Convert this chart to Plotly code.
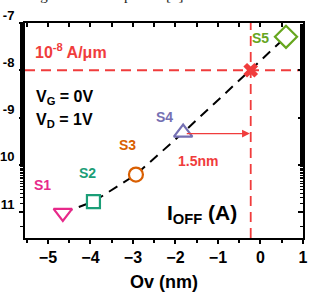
import plotly.graph_objects as go

# ---- data ----
samples = ["S1", "S2", "S3", "S4", "S5"]
ov_nm = [-4.65, -3.93, -2.93, -1.82, 0.60]
ioff_a = [9.6e-12, 1.66e-11, 6.2e-11, 4.8e-10, 5.1e-8]
colors = ["#e7298a", "#1b9e77", "#d95f02", "#7570b3", "#66a61e"]
symbols = ["triangle-down", "square", "circle", "triangle-up", "diamond"]
sizes = [16, 13, 14, 16, 17]
label_x = [-5.14, -4.06, -3.12, -2.25, 0.0]
label_log_y = [-10.43, -10.17, -9.59, -8.98, -7.32]
target_ioff = 1e-8
target_ov = -0.23
x_ticks = [-5, -4, -3, -2, -1, 0, 1]
y_tickvals = [1e-7, 1e-8, 1e-9, 1e-10, 1e-11]
y_ticktext = ["-7", "-8", "-9", "10", "11"]

RED = "#f03c3c"
FONT = "Arial"
XR = [-5.54, 1.0]
YR = [-11.55, -7.0]

fig = go.Figure()

# dashed trend line
fig.add_trace(go.Scatter(
    x=ov_nm, y=ioff_a, mode="lines",
    line=dict(color="black", width=2, dash="10px,7px"),
    showlegend=False, hoverinfo="skip"))

# markers (white fill to hide line)
for i in range(len(samples)):
    fig.add_trace(go.Scatter(
        x=[ov_nm[i]], y=[ioff_a[i]], mode="markers",
        marker=dict(symbol=symbols[i], size=sizes[i],
                    color="white", line=dict(color=colors[i], width=2.2)),
        showlegend=False))
    fig.add_annotation(x=label_x[i], y=label_log_y[i],
                       text="<b>%s</b>" % samples[i], showarrow=False,
                       font=dict(family=FONT, size=14, color=colors[i]))

# target cross
fig.add_trace(go.Scatter(
    x=[target_ov], y=[target_ioff], mode="markers",
    marker=dict(symbol="x", size=13, color=RED, line=dict(width=0)),
    showlegend=False))

# dummy trace for mirrored axes
fig.add_trace(go.Scatter(x=[XR[0]], y=[1e-9], xaxis="x2", yaxis="y2",
                         mode="markers", marker=dict(opacity=0), showlegend=False,
                         hoverinfo="skip"))

# reference lines
fig.add_shape(type="line", xref="paper", x0=0, x1=1, yref="y",
              y0=target_ioff, y1=target_ioff,
              line=dict(color=RED, width=1.8, dash="10px,6px"), layer="below")
fig.add_shape(type="line", xref="x", x0=target_ov, x1=target_ov, yref="paper",
              y0=0, y1=1, line=dict(color=RED, width=1.8, dash="10px,6px"), layer="below")

# arrow 1.5nm
fig.add_annotation(x=target_ov - 0.02, y=-9.34, ax=ov_nm[3] + 0.05, ay=-9.34,
                   xref="x", yref="y", axref="x", ayref="y",
                   showarrow=True, arrowhead=2, arrowsize=1.2, arrowwidth=1.3,
                   arrowcolor=RED, text="")
fig.add_annotation(x=-1.47, y=-9.93, text="<b>1.5nm</b>", showarrow=False,
                   font=dict(family=FONT, size=14, color=RED))

# text labels
fig.add_annotation(xref="paper", yref="paper", x=0.028, y=0.925, xanchor="left",
                   text="<b>10<sup>-8</sup> A/μm</b>", showarrow=False,
                   font=dict(family=FONT, size=16, color=RED))
fig.add_annotation(xref="paper", yref="paper", x=0.032, y=0.655, xanchor="left",
                   text="<b>V<sub>G</sub> = 0V</b>", showarrow=False,
                   font=dict(family=FONT, size=16, color="black"))
fig.add_annotation(xref="paper", yref="paper", x=0.032, y=0.548, xanchor="left",
                   text="<b>V<sub>D</sub> = 1V</b>", showarrow=False,
                   font=dict(family=FONT, size=16, color="black"))
fig.add_annotation(xref="paper", yref="paper", x=0.768, y=0.04, xanchor="right",
                   text="<b>I<sub>OFF</sub> (A)</b>", showarrow=False,
                   font=dict(family=FONT, size=21, color="black"))
# cut-off caption text above the chart
fig.add_annotation(xref="paper", yref="paper", x=-0.055, y=1.128, xanchor="left",
                   yanchor="middle", text="change under the spacers [5].",
                   showarrow=False,
                   font=dict(family="Liberation Serif", size=15, color="#222"))

axis_common = dict(showgrid=False, zeroline=False, showline=True,
                   linecolor="black", linewidth=2)

fig.update_layout(
    width=319, height=297,
    margin=dict(l=25, r=16, t=23, b=59, autoexpand=False),
    paper_bgcolor="white", plot_bgcolor="white",
    xaxis=dict(range=XR, tickvals=x_ticks, ticks="outside", ticklen=4,
               tickwidth=1.5, tickcolor="black",
               minor=dict(dtick=0.5, tick0=0, ticks="outside", ticklen=3,
                          tickwidth=1.5, tickcolor="black"),
               tickfont=dict(family=FONT, size=16, color="black", weight="bold"),
               title=dict(text="<b>Ov (nm)</b>", standoff=10,
                          font=dict(family=FONT, size=18, color="black")),
               **axis_common),
    yaxis=dict(type="log", range=YR, tickvals=y_tickvals, ticktext=y_ticktext,
               ticks="outside", ticklen=4, tickwidth=1.5, tickcolor="black",
               minor=dict(ticks="outside", ticklen=3, tickwidth=1.2, tickcolor="black"),
               ticklabelshift=-8, ticklabelstandoff=2,
               tickfont=dict(family=FONT, size=13, color="black", weight="bold"),
               **axis_common),
    xaxis2=dict(range=XR, overlaying="x", side="top", tickvals=[],
                ticks="inside", ticklen=4, tickwidth=1.5, tickcolor="black",
                minor=dict(dtick=0.5, tick0=0, ticks="inside", ticklen=4,
                           tickwidth=1.5, tickcolor="black"),
                showticklabels=False, **axis_common),
    yaxis2=dict(type="log", range=YR, overlaying="y", side="right",
                tickvals=y_tickvals, ticks="inside", ticklen=5, tickwidth=1.5,
                tickcolor="black",
                minor=dict(ticks="inside", ticklen=3, tickwidth=1.2, tickcolor="black"),
                showticklabels=False, **axis_common),
)

fig.write_html("out.html", config={"displayModeBar": False},
               post_script="document.body.style.margin='0';document.body.style.padding='0';")
